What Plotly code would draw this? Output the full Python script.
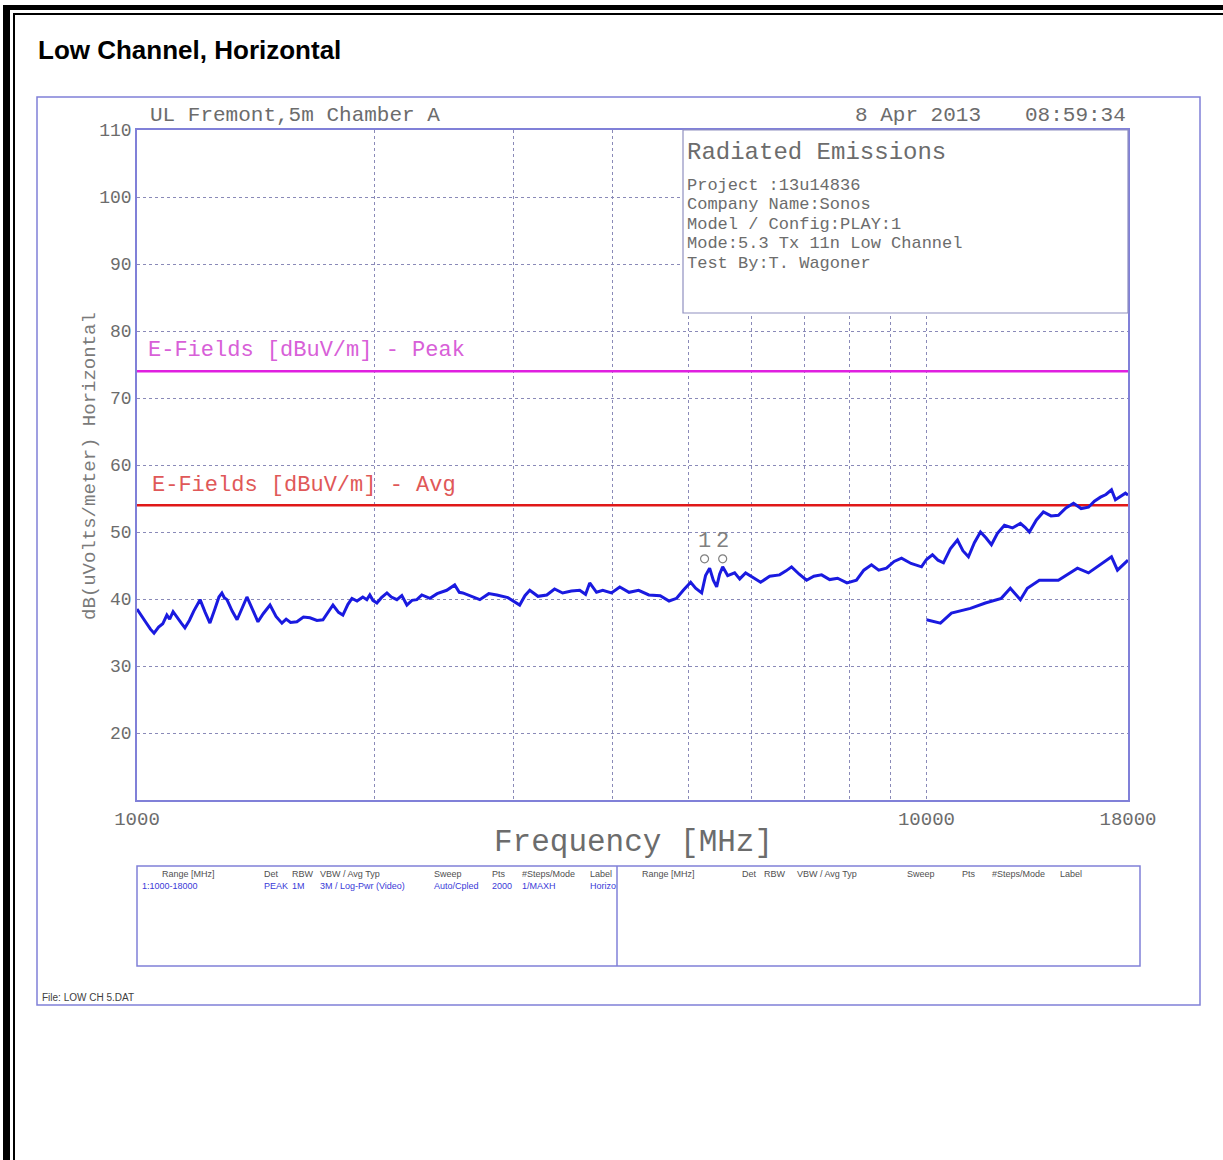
import plotly.graph_objects as go

# Peak sweep (MHz, dBuV/m)
peak_freq = [
    1000, 1010, 1025, 1040, 1051, 1065, 1078, 1091, 1100, 1111, 1125, 1138, 1150, 1165, 1180,
    1202, 1220, 1237, 1255, 1270, 1281, 1290, 1300, 1320, 1339, 1355, 1378, 1400, 1423, 1445,
    1474, 1500, 1526, 1545, 1565, 1594, 1625, 1656, 1690, 1720, 1745, 1771, 1800, 1823, 1850,
    1872, 1900, 1932, 1955, 1972, 1990, 2013, 2040, 2073, 2100, 2134, 2165, 2197, 2230, 2262,
    2295, 2328, 2350, 2400, 2468, 2526, 2560, 2586, 2650, 2718, 2790, 2856, 2950, 3053, 3100,
    3144, 3220, 3304, 3380, 3461, 3550, 3637, 3700, 3745, 3820, 3890, 3990, 4088, 4200, 4319,
    4450, 4600, 4720, 4825, 4920, 5027, 5100, 5191, 5250, 5313, 5370, 5423, 5470, 5519, 5600,
    5715, 5800, 5901, 6030, 6165, 6330, 6515, 6640, 6747, 6900, 7049, 7200, 7365, 7540, 7716,
    7930, 8153, 8330, 8518, 8700, 8898, 9100, 9298, 9560, 9856, 10000, 10176, 10340, 10508, 10720,
    10945, 11120, 11302, 11500, 11706, 11900, 12086, 12300, 12553, 12850, 13151, 13330, 13501, 13780, 14063,
    14380, 14692, 15020, 15355, 15700, 16040, 16320, 16612, 16880, 17153, 17352, 17600, 17865, 18000,
]
peak_level = [
    38.5, 37.8, 36.6, 35.5, 34.9, 35.8, 36.3, 37.6, 37.0, 38.1, 37.3, 36.4, 35.7, 36.8, 38.2,
    39.9, 38.0, 36.4, 38.5, 40.3, 40.9, 40.2, 39.9, 38.2, 36.9, 38.4, 40.3, 38.5, 36.6, 37.8,
    39.1, 37.4, 36.4, 37.0, 36.5, 36.6, 37.3, 37.2, 36.8, 36.9, 38.0, 39.1, 38.0, 37.6, 39.2,
    40.1, 39.7, 40.3, 39.9, 40.6, 39.8, 39.4, 40.2, 40.9, 40.3, 39.9, 40.5, 39.1, 39.8, 39.9,
    40.6, 40.3, 40.1, 40.8, 41.3, 42.1, 41.0, 40.9, 40.4, 39.9, 40.8, 40.6, 40.2, 39.1, 40.5,
    41.3, 40.4, 40.6, 41.5, 40.9, 41.2, 41.3, 40.7, 42.4, 41.0, 41.3, 40.9, 41.8, 41.0, 41.3,
    40.6, 40.5, 39.7, 40.1, 41.3, 42.5, 41.6, 40.9, 43.5, 44.6, 42.8, 41.8, 43.7, 44.8, 43.5,
    43.9, 43.0, 43.9, 43.2, 42.5, 43.4, 43.6, 44.2, 44.8, 43.7, 42.8, 43.4, 43.6, 42.9, 43.1,
    42.4, 42.8, 44.3, 45.1, 44.3, 44.6, 45.6, 46.1, 45.3, 44.8, 45.9, 46.6, 45.8, 45.4, 47.5,
    48.8, 47.2, 46.3, 48.4, 50.0, 49.1, 48.1, 49.8, 51.0, 50.6, 51.3, 50.7, 50.0, 51.8, 53.0,
    52.4, 52.5, 53.6, 54.3, 53.5, 53.7, 54.6, 55.2, 55.6, 56.3, 54.8, 55.3, 55.8, 55.5,
]

# Average sweep above 10 GHz
avg_freq = [10000, 10416, 10755, 11367, 11875, 12438, 12770, 13151, 13420, 13900,
            14692, 15532, 16040, 16612, 17153, 17455, 17865, 18000]
avg_level = [36.9, 36.4, 37.9, 38.6, 39.4, 40.1, 41.6, 39.9, 41.6, 42.8,
             42.8, 44.6, 43.9, 45.1, 46.3, 44.3, 45.5, 45.8]

# Limit lines
limit_freq = [1000, 18000]
peak_limit = [74, 74]
avg_limit = [54, 54]

# Markers
marker_freq = [5235, 5519]
marker_level = [46.0, 46.0]
marker_label = ["1", "2"]

x_tick_vals = [1000, 2000, 3000, 4000, 5000, 6000, 7000, 8000, 9000, 10000, 18000]
x_tick_text = ["1000", "", "", "", "", "", "", "", "", "10000", "18000"]
y_tick_vals = [10, 20, 30, 40, 50, 60, 70, 80, 90, 100, 110]
y_tick_text = ["", "20", "30", "40", "50", "60", "70", "80", "90", "100", "110"]

info_lines = ["Project :13u14836", "Company Name:Sonos", "Model / Config:PLAY:1",
              "Mode:5.3 Tx 11n Low Channel", "Test By:T. Wagoner"]

table_headers = ["Range [MHz]", "Det", "RBW", "VBW / Avg Typ", "Sweep", "Pts", "#Steps/Mode", "Label"]
table_row = ["1:1000-18000", "PEAK", "1M", "3M / Log-Pwr (Video)", "Auto/Cpled", "2000", "1/MAXH", "Horizo"]

W, H = 1223, 1160
L, R, T, B = 137, 1128, 130, 800
MONO = "Liberation Mono, Courier New, monospace"
NARROW = "Liberation Sans Narrow, Arial Narrow, sans-serif"
FRAME = "#8080d8"
GRID = "#8a8ab8"
INK = "#6c6c6c"


def px(x):
    return (x - L) / (R - L)


def py(y):
    return (B - y) / (B - T)


fig = go.Figure()

fig.add_trace(go.Scatter(x=limit_freq, y=peak_limit, mode="lines",
                         line=dict(color="#e020e0", width=2.5)))
fig.add_trace(go.Scatter(x=limit_freq, y=avg_limit, mode="lines",
                         line=dict(color="#e01818", width=2.5)))
fig.add_trace(go.Scatter(x=peak_freq, y=peak_level, mode="lines",
                         line=dict(color="#1a1ae0", width=3)))
fig.add_trace(go.Scatter(x=avg_freq, y=avg_level, mode="lines",
                         line=dict(color="#1a1ae0", width=3)))
fig.add_trace(go.Scatter(x=marker_freq, y=marker_level, mode="markers+text",
                         text=marker_label, textposition="top center",
                         textfont=dict(family=MONO, size=22, color="#808080"),
                         marker=dict(symbol="circle-open", size=8, color="#808080",
                                     line=dict(width=1.2))))

shapes = []
# page frame (black double border on left and top)
shapes.append(dict(type="rect", xref="paper", yref="paper", x0=px(3), x1=px(10), y0=py(5), y1=py(H),
                   fillcolor="black", line=dict(width=0), layer="above"))
shapes.append(dict(type="rect", xref="paper", yref="paper", x0=px(13), x1=px(15), y0=py(13), y1=py(H),
                   fillcolor="black", line=dict(width=0), layer="above"))
shapes.append(dict(type="rect", xref="paper", yref="paper", x0=px(3), x1=px(W), y0=py(5), y1=py(10),
                   fillcolor="black", line=dict(width=0), layer="above"))
shapes.append(dict(type="rect", xref="paper", yref="paper", x0=px(13), x1=px(W), y0=py(13), y1=py(15),
                   fillcolor="black", line=dict(width=0), layer="above"))
# chart frame
shapes.append(dict(type="rect", xref="paper", yref="paper", x0=px(37), x1=px(1200), y0=py(97), y1=py(1005),
                   line=dict(color=FRAME, width=1.5), layer="below"))
# info box
shapes.append(dict(type="rect", xref="paper", yref="paper", x0=px(683), x1=px(1128), y0=py(130), y1=py(313),
                   fillcolor="white", line=dict(color="#9090c0", width=1.2), layer="above"))
# settings table
shapes.append(dict(type="rect", xref="paper", yref="paper", x0=px(137), x1=px(1140), y0=py(866), y1=py(966),
                   line=dict(color=FRAME, width=1.5)))
shapes.append(dict(type="line", xref="paper", yref="paper", x0=px(617), x1=px(617), y0=py(866), y1=py(966),
                   line=dict(color=FRAME, width=1.5)))

annotations = []


def text(x, y, s, size, color=INK, family=MONO, anchor="left", angle=0, bold=False):
    if bold:
        s = "<b>" + s + "</b>"
    annotations.append(dict(x=px(x), y=py(y), xref="paper", yref="paper", text=s, showarrow=False,
                            xanchor=anchor, yanchor="middle", textangle=angle,
                            font=dict(family=family, size=size, color=color)))


text(36, 50, "Low Channel, Horizontal", 26, color="black", family="Liberation Sans, Arial, sans-serif", bold=True)
text(148, 116, "UL Fremont,5m Chamber A", 21)
text(853, 116, "8 Apr 2013", 21)
text(1128, 116, "08:59:34", 21, anchor="right")
text(685, 152, "Radiated Emissions", 24)
for i, line in enumerate(info_lines):
    text(685, 185 + i * 19.5, line, 17)
text(146, 350, "E-Fields [dBuV/m] - Peak", 22, color="#d860d8")
text(150, 485, "E-Fields [dBuV/m] - Avg", 22, color="#e05858")
text(90, 466, "dB(uVolts/meter) Horizontal", 19, color="#7a7a7a", anchor="center", angle=-90)
text(633, 842, "Frequency [MHz]", 31, anchor="center")

left_cols = [160, 262, 290, 318, 432, 490, 520, 588]
right_cols = [640, 740, 762, 795, 905, 960, 990, 1058]
for col, head, val in zip(left_cols, table_headers, table_row):
    text(col, 874, head, 9, color="#505050", family=NARROW)
    text(col if col != 160 else 140, 886, val, 9, color="#3a3ad8", family=NARROW)
for col, head in zip(right_cols, table_headers):
    text(col, 874, head, 9, color="#505050", family=NARROW)
text(40, 997, "File: LOW CH 5.DAT", 10, color="#404040", family=NARROW)

fig.update_layout(
    width=W, height=H,
    margin=dict(l=L, r=W - R, t=T, b=H - B),
    paper_bgcolor="white", plot_bgcolor="white",
    showlegend=False,
    shapes=shapes,
    annotations=annotations,
)
fig.update_xaxes(type="log", range=[3, 4.25527], tickvals=x_tick_vals, ticktext=x_tick_text,
                 showgrid=True, gridcolor=GRID, griddash="dot", gridwidth=1,
                 showline=True, linecolor=FRAME, linewidth=1.5, mirror=True,
                 ticks="", tickfont=dict(family=MONO, size=19, color=INK), zeroline=False)
fig.update_yaxes(range=[10, 110], tickvals=y_tick_vals, ticktext=y_tick_text,
                 showgrid=True, gridcolor=GRID, griddash="dot", gridwidth=1,
                 showline=True, linecolor=FRAME, linewidth=1.5, mirror=True,
                 ticks="", tickfont=dict(family=MONO, size=18, color=INK), zeroline=False)

fig.write_html("out.html", config={"displayModeBar": False},
               post_script="document.body.style.margin='0';")
